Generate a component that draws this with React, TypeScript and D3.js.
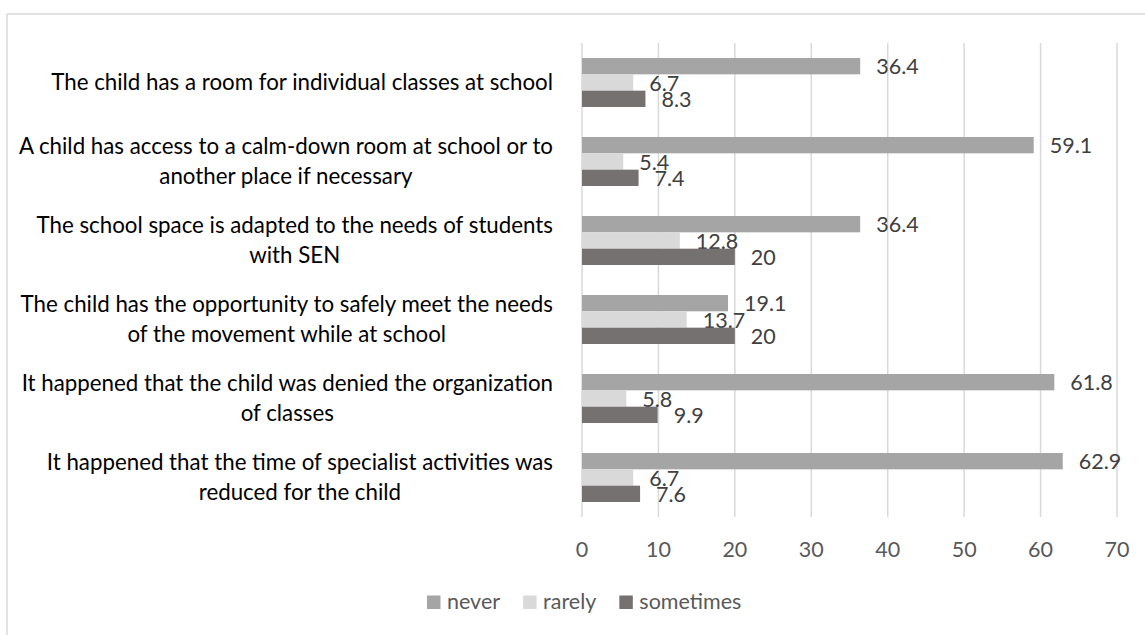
import React, { useEffect, useRef } from "react";
import * as d3 from "d3";

const categories: string[][] = [
  ["The child has a room for individual classes at school"],
  ["A child has access to a calm-down room at school or to", "another place if necessary"],
  ["The school space is adapted to the needs of students", "with SEN"],
  ["The child has the opportunity to safely meet the needs", "of the movement while at school"],
  ["It happened that the child was denied the organization", "of classes"],
  ["It happened that the time of specialist activities was", "reduced for the child"],
];
const seriesNames = ["never", "rarely", "sometimes"];
const never = [36.4, 59.1, 36.4, 19.1, 61.8, 62.9];
const rarely = [6.7, 5.4, 12.8, 13.7, 5.8, 6.7];
const sometimes = [8.3, 7.4, 20, 20, 9.9, 7.6];
const xTicks = [0, 10, 20, 30, 40, 50, 60, 70];
const colors = ["#a5a5a5", "#d9d9d9", "#767171"];

const W = 1145;
const H = 635;
const FONT = "Lato, 'Open Sans', sans-serif";
const FS = 22.3;
const FS_NUM = 21.5;

export default function App() {
  const ref = useRef<SVGSVGElement>(null);
  useEffect(() => {
    const svg = d3.select(ref.current);
    svg.selectAll("*").remove();
    const values = [never, rarely, sometimes];
    const ids = categories.map((_, i) => String(i));

    // chart border
    svg.append("line").attr("x1", 7).attr("x2", W + 5).attr("y1", 14).attr("y2", 14)
      .attr("stroke", "#d9d9d9").attr("stroke-width", 1.5);
    svg.append("line").attr("x1", 7).attr("x2", 7).attr("y1", 14).attr("y2", H + 5)
      .attr("stroke", "#d9d9d9").attr("stroke-width", 1.5);

    const x = d3.scaleLinear().domain([0, 70]).range([582, 1117]);
    const y = d3.scaleBand().domain(ids).range([43, 517]).paddingInner(0.38).paddingOuter(0.19);
    const ys = d3.scaleBand().domain(seriesNames).range([0, y.bandwidth()]);

    // gridlines
    svg.append("g").selectAll("line").data(xTicks).join("line")
      .attr("x1", (d) => x(d)).attr("x2", (d) => x(d))
      .attr("y1", 43).attr("y2", 517)
      .attr("stroke", "#d9d9d9").attr("stroke-width", 1.5);

    // tick labels
    svg.append("g").selectAll("text").data(xTicks).join("text")
      .attr("x", (d) => x(d)).attr("y", 557)
      .attr("text-anchor", "middle")
      .attr("font-family", FONT).attr("font-size", FS_NUM).attr("fill", "#595959")
      .text((d) => String(d));

    // bars
    seriesNames.forEach((s, si) => {
      const g = svg.append("g");
      g.selectAll("rect").data(values[si]).join("rect")
        .attr("x", x(0))
        .attr("y", (_, i) => (y(ids[i]) as number) + (ys(s) as number))
        .attr("width", (d) => x(d) - x(0))
        .attr("height", ys.bandwidth())
        .attr("fill", colors[si]);
      g.selectAll("text").data(values[si]).join("text")
        .attr("x", (d) => x(d) + 16)
        .attr("y", (_, i) => (y(ids[i]) as number) + (ys(s) as number) + ys.bandwidth() / 2 + 8)
        .attr("font-family", FONT).attr("font-size", FS_NUM).attr("fill", "#404040")
        .text((d) => String(d));
    });

    // category labels
    const labelRight = 553;
    const lineH = 29.5;
    categories.forEach((lines, i) => {
      const g = svg.append("g");
      const cy = (y(ids[i]) as number) + y.bandwidth() / 2;
      const texts = lines.map((ln, li) =>
        g.append("text")
          .attr("y", cy + 7.5 + (li - (lines.length - 1) / 2) * lineH)
          .attr("text-anchor", "middle")
          .attr("font-family", FONT).attr("font-size", FS).attr("fill", "#000000")
          .text(ln)
      );
      const widths = texts.map((t) => (t.node() as SVGTextElement).getComputedTextLength());
      const bw = Math.max(...widths);
      texts.forEach((t) => t.attr("x", labelRight - bw / 2));
    });

    // legend
    let lx = 427;
    seriesNames.forEach((s, si) => {
      svg.append("rect").attr("x", lx).attr("y", 595.5).attr("width", 13.5).attr("height", 13.5)
        .attr("fill", colors[si]);
      const t = svg.append("text").attr("x", lx + 20).attr("y", 609)
        .attr("font-family", FONT).attr("font-size", FS_NUM).attr("fill", "#595959").text(s);
      const tw = (t.node() as SVGTextElement).getComputedTextLength();
      lx = lx + 20 + tw + 23;
    });
  }, []);

  return (
    <svg
      ref={ref}
      width={W}
      height={H}
      style={{ position: "absolute", left: 0, top: 0, background: "#ffffff" }}
    />
  );
}
